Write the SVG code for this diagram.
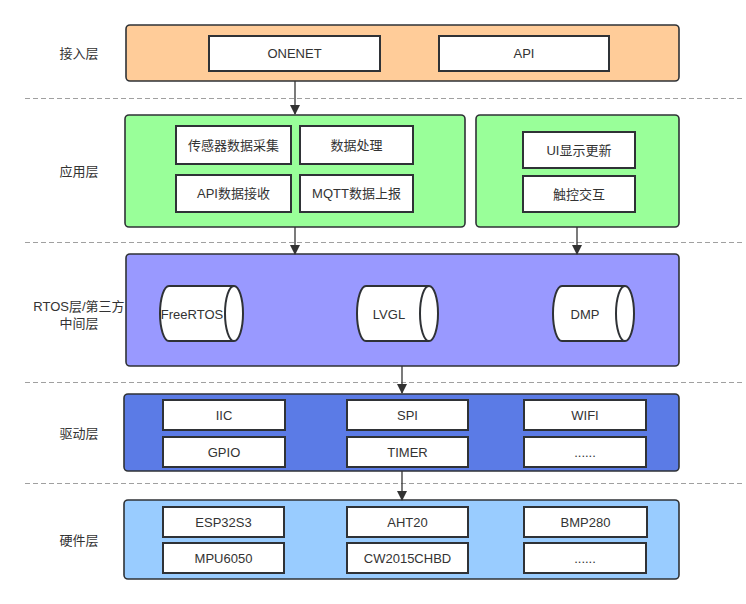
<svg xmlns="http://www.w3.org/2000/svg" width="746" height="604" viewBox="0 0 746 604">
<defs>
<marker id="ah" markerWidth="10" markerHeight="10" refX="9" refY="5" orient="auto" markerUnits="userSpaceOnUse">
<path d="M0,0 L10,5 L0,10 Z" fill="#333"/>
</marker>
<style>
.layer{stroke:#2f3236;stroke-width:1.6}
.box{fill:#fff;stroke:#2f3236;stroke-width:2}
.t{font-family:"Liberation Sans","Noto Sans CJK SC",sans-serif;font-size:13px;fill:#333;text-anchor:middle;dominant-baseline:central}
.sep{stroke:#a0a0a0;stroke-width:1;stroke-dasharray:5,3;fill:none}
.conn{stroke:#333;stroke-width:1.3;fill:none;marker-end:url(#ah)}
.cyl{fill:#fff;stroke:#2f3236;stroke-width:2}
.cap{fill:none;stroke:#2f3236;stroke-width:2}
</style>
</defs>
<rect width="746" height="604" fill="#fff"/>
<g id="separators">
<line class="sep" x1="25" y1="98.5" x2="742" y2="98.5"/>
<line class="sep" x1="25" y1="242.5" x2="742" y2="242.5"/>
<line class="sep" x1="25" y1="382.5" x2="742" y2="382.5"/>
<line class="sep" x1="25" y1="483.5" x2="742" y2="483.5"/>
</g>
<g id="labels">
<text class="t" x="79" y="53">接入层</text>
<text class="t" x="79" y="171">应用层</text>
<text class="t" x="79" y="306">RTOS层/第三方</text>
<text class="t" x="79" y="323">中间层</text>
<text class="t" x="79" y="433">驱动层</text>
<text class="t" x="79" y="540">硬件层</text>
</g>
<g id="access">
<rect class="layer" x="126" y="25" width="553" height="56" rx="4" fill="#FFCC99"/>
<g id="onenet"><rect class="box" x="209" y="36" width="171" height="35"/><text class="t" x="294.5" y="53.5">ONENET</text></g>
<g id="api"><rect class="box" x="439" y="36" width="170" height="35"/><text class="t" x="524" y="53.5">API</text></g>
</g>
<g id="app">
<rect class="layer" x="125" y="115" width="340" height="112" rx="4" fill="#99FF99"/>
<g id="collect"><rect class="box" x="176" y="126" width="115" height="38"/><text class="t" x="233.5" y="145">传感器数据采集</text></g>
<g id="process"><rect class="box" x="300" y="126" width="113" height="38"/><text class="t" x="356.5" y="145">数据处理</text></g>
<g id="apirecv"><rect class="box" x="176" y="175" width="115" height="37"/><text class="t" x="233.5" y="193.5">API数据接收</text></g>
<g id="mqtt"><rect class="box" x="300" y="175" width="113" height="37"/><text class="t" x="356.5" y="193.5">MQTT数据上报</text></g>
</g>
<g id="ui">
<rect class="layer" x="476" y="115" width="203" height="112" rx="4" fill="#99FF99"/>
<g id="uiupdate"><rect class="box" x="523" y="132" width="112" height="36"/><text class="t" x="579" y="150">UI显示更新</text></g>
<g id="touch"><rect class="box" x="523" y="176" width="112" height="36"/><text class="t" x="579" y="194">触控交互</text></g>
</g>
<g id="rtos">
<rect class="layer" x="126" y="254" width="553" height="112" rx="4" fill="#9999FF"/>
<g id="freertos">
<path class="cyl" d="M169,286 H234 A9,27.5 0 0 1 234,341 H169 A9,27.5 0 0 1 169,286 Z"/>
<path class="cap" d="M234,286 A9,27.5 0 0 0 234,341"/>
<text class="t" x="192" y="314">FreeRTOS</text>
</g>
<g id="lvgl">
<path class="cyl" d="M366,286 H429 A9,27.5 0 0 1 429,341 H366 A9,27.5 0 0 1 366,286 Z"/>
<path class="cap" d="M429,286 A9,27.5 0 0 0 429,341"/>
<text class="t" x="389" y="314">LVGL</text>
</g>
<g id="dmp">
<path class="cyl" d="M562,286 H625 A9,27.5 0 0 1 625,341 H562 A9,27.5 0 0 1 562,286 Z"/>
<path class="cap" d="M625,286 A9,27.5 0 0 0 625,341"/>
<text class="t" x="585" y="314">DMP</text>
</g>
</g>
<g id="driver">
<rect class="layer" x="124" y="394" width="555" height="77" rx="4" fill="#5B7BE6"/>
<g id="iic"><rect class="box" x="163" y="400" width="122" height="30"/><text class="t" x="224" y="415">IIC</text></g>
<g id="spi"><rect class="box" x="347" y="400" width="121" height="30"/><text class="t" x="407.5" y="415">SPI</text></g>
<g id="wifi"><rect class="box" x="524" y="400" width="122" height="30"/><text class="t" x="585" y="415">WIFI</text></g>
<g id="gpio"><rect class="box" x="163" y="437" width="122" height="30"/><text class="t" x="224" y="452">GPIO</text></g>
<g id="timer"><rect class="box" x="347" y="437" width="121" height="30"/><text class="t" x="407.5" y="452">TIMER</text></g>
<g id="drvmore"><rect class="box" x="524" y="437" width="122" height="30"/><text class="t" x="585" y="452">......</text></g>
</g>
<g id="hardware">
<rect class="layer" x="124" y="500" width="555" height="79" rx="4" fill="#99CCFF"/>
<g id="esp"><rect class="box" x="163" y="507" width="121" height="30"/><text class="t" x="223.5" y="522">ESP32S3</text></g>
<g id="aht"><rect class="box" x="347" y="507" width="121" height="30"/><text class="t" x="407.5" y="522">AHT20</text></g>
<g id="bmp"><rect class="box" x="524" y="507" width="123" height="30"/><text class="t" x="585.5" y="522">BMP280</text></g>
<g id="mpu"><rect class="box" x="163" y="543" width="121" height="30"/><text class="t" x="223.5" y="558">MPU6050</text></g>
<g id="cw"><rect class="box" x="347" y="543" width="121" height="30"/><text class="t" x="407.5" y="558">CW2015CHBD</text></g>
<g id="hwmore"><rect class="box" x="524" y="543" width="122" height="30"/><text class="t" x="585" y="558">......</text></g>
</g>
<g id="connectors">
<line class="conn" x1="295" y1="81" x2="295" y2="114"/>
<line class="conn" x1="295" y1="227" x2="295" y2="254"/>
<line class="conn" x1="577" y1="227" x2="577" y2="254"/>
<line class="conn" x1="402" y1="366" x2="402" y2="393"/>
<line class="conn" x1="402" y1="471" x2="402" y2="500"/>
</g>
</svg>
